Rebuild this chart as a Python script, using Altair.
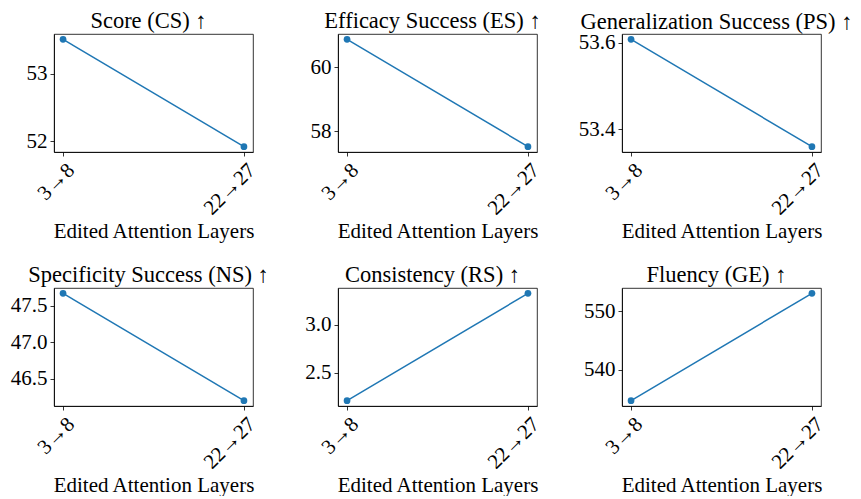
import altair as alt
import pandas as pd

layers = ["3→8", "22→27"]

score_cs = [53.51, 51.92]
efficacy_es = [60.87, 57.52]
generalization_ps = [53.608, 53.36]
specificity_ns = [47.67, 46.20]
consistency_rs = [2.21, 3.33]
fluency_ge = [534.7, 553.1]

titles = [
    "Score (CS) ↑",
    "Efficacy Success (ES) ↑",
    "Generalization Success (PS) ↑",
    "Specificity Success (NS) ↑",
    "Consistency (RS) ↑",
    "Fluency (GE) ↑",
]
series = [score_cs, efficacy_es, generalization_ps, specificity_ns, consistency_rs, fluency_ge]
tick_values = [[52, 53], [58, 60], [53.4, 53.6], [46.5, 47.0, 47.5], [2.5, 3.0], [540, 550]]
tick_formats = ["d", "d", ".1f", ".1f", ".1f", "d"]
title_dy = [0, 0, 4, 0, 0, 0]

FONT = "Liberation Serif, DejaVu Serif, serif"
BLUE = "#1f77b4"


def panel(title, vals, ticks, fmt, dy):
    df = pd.DataFrame({"layer": layers, "value": vals})
    lo, hi = min(vals), max(vals)
    m = (hi - lo) * 0.05
    base = alt.Chart(df).encode(
        x=alt.X(
            "layer:N",
            sort=layers,
            scale=alt.Scale(type="point", padding=0.05),
            axis=alt.Axis(title="Edited Attention Layers", labelAngle=315, titlePadding=2),
        ),
        y=alt.Y(
            "value:Q",
            scale=alt.Scale(domain=[lo - m, hi + m], nice=False, zero=False),
            axis=alt.Axis(values=ticks, format=fmt, title=None, minExtent=45, maxExtent=45),
        ),
    )
    line = base.mark_line(color=BLUE, strokeWidth=1.5)
    pts = base.mark_point(filled=True, size=45, color=BLUE, opacity=1)
    tp = dict(frame="group", offset=2, dx=-5)
    if dy:
        tp["dy"] = dy
    return (line + pts).properties(
        width=199,
        height=118,
        title=alt.TitleParams(title, **tp),
    )


charts = [
    panel(t, v, tk, f, d)
    for t, v, tk, f, d in zip(titles, series, tick_values, tick_formats, title_dy)
]

chart = (
    alt.concat(*charts, columns=3, spacing={"row": 136, "column": 85}, bounds="flush")
    .properties(padding={"left": 0, "top": 1, "right": -2, "bottom": 0}, background="white")
    .configure_view(stroke="black", strokeWidth=0.8)
    .configure_axis(
        labelFont=FONT,
        labelFontSize=21,
        labelColor="black",
        titleFont=FONT,
        titleFontSize=21,
        titleFontWeight="normal",
        titleColor="black",
        tickColor="black",
        tickSize=4,
        tickWidth=0.8,
        domainColor="black",
        domainWidth=0.8,
        grid=False,
        labelPadding=3,
    )
    .configure_title(font=FONT, fontSize=22.5, fontWeight="normal", color="black")
)

chart.save("out.html", embed_options={"renderer": "svg", "actions": False})
